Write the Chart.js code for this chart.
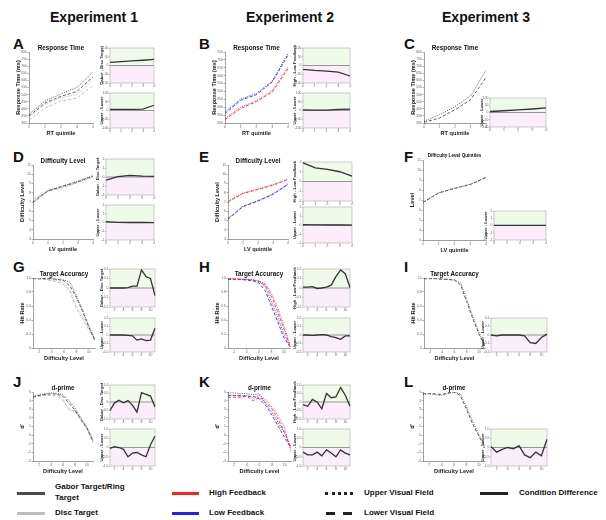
<!DOCTYPE html>
<html>
<head>
<meta charset="utf-8">
<script src="https://cdn.jsdelivr.net/npm/chart.js@4.4.0/dist/chart.umd.min.js"></script>
<style>
  body { margin: 0; background: #fff; }
  #fig { position: relative; width: 606px; height: 520px; overflow: hidden; font-family: "Liberation Sans", Arial, sans-serif; color: #111; }
  #fig canvas { position: absolute; }
  .t { position: absolute; font-weight: bold; white-space: nowrap; line-height: 1; }
  .c { transform: translate(-50%, -50%); }
  .ln { position: absolute; height: 0; }
</style>
</head>
<body>
<div id="fig"></div>
<script>
// ---- categories / tick labels ----
const rtQuintiles = ['10%', '30%', '50%', '70%', '90%'];
const lvQuintiles = ['LV10%', 'LV30%', 'LV50%', 'LV70%', 'LV90%'];
const levels = ['1', '2', '3', '4', '5', '6', '7', '8', '9', '10', '11'];

// ---- Experiment 1 ----
const aGaborUpper = [362, 455, 505, 551, 660];
const aGaborLower = [350, 440, 488, 522, 625];
const aDiscUpper = [340, 430, 478, 500, 600];
const aDiscLower = [320, 405, 455, 475, 567];
const aGaborMinusDisc = [18, 22, 26, 30, 35];
const aUpperMinusLower = [6, 6, 7, 8, 30];

const dGaborUpper = [7.0, 8.25, 8.75, 9.25, 9.85];
const dGaborLower = [6.95, 8.2, 8.7, 9.2, 9.8];
const dDiscUpper = [7.3, 8.2, 8.6, 9.15, 9.75];
const dDiscLower = [7.25, 8.15, 8.55, 9.1, 9.7];
const dGaborMinusDisc = [-0.35, 0.05, 0.18, 0.1, 0.08];
const dUpperMinusLower = [0.1, 0.02, 0, 0, -0.02];

const gGaborUpper = [1, 1, 0.99, 0.99, 0.98, 0.97, 0.94, 0.75, 0.55, 0.32, 0.12];
const gGaborLower = [1, 1, 0.99, 0.99, 0.98, 0.96, 0.88, 0.72, 0.52, 0.3, 0.1];
const gDiscUpper = [0.99, 0.99, 0.98, 0.97, 0.96, 0.93, 0.82, 0.6, 0.45, 0.28, 0.15];
const gDiscLower = [0.99, 0.98, 0.98, 0.96, 0.94, 0.9, 0.8, 0.56, 0.42, 0.26, 0.13];
const gGaborMinusDisc = [0, 0, 0, 0, 0.005, 0.02, 0.02, 0.19, 0.12, 0.1, -0.08];
const gUpperMinusLower = [0, 0, 0, 0, -0.005, -0.01, -0.06, -0.045, -0.065, -0.06, 0.08];

const jGaborUpper = [4.5, 4.6, 4.8, 4.9, 4.85, 4.7, 4.0, 3.1, 2.0, 0.9, -0.6];
const jGaborLower = [4.4, 4.6, 4.7, 4.8, 4.75, 4.5, 3.7, 2.9, 1.8, 0.8, -0.8];
const jDiscUpper = [4.6, 4.7, 4.8, 4.8, 4.7, 4.2, 2.9, 2.7, 1.9, 0.9, -0.4];
const jDiscLower = [4.5, 4.5, 4.6, 4.6, 4.5, 4.0, 3.0, 2.8, 1.7, 0.7, -0.7];
const jGaborMinusDisc = [-0.5, -0.05, 0.1, -0.05, 0.08, -0.2, -0.6, 0.55, 0.45, 0.35, -0.3];
const jUpperMinusLower = [-0.05, 0.05, 0, -0.1, -0.5, -0.3, -0.27, -0.4, -0.5, 0.15, 0.62];

// ---- Experiment 2 ----
const bHighUpper = [330, 400, 442, 505, 655];
const bHighLower = [322, 392, 436, 497, 643];
const bLowUpper = [368, 452, 488, 566, 742];
const bLowLower = [360, 444, 480, 560, 730];
const bHighMinusLow = [-22, -28, -32, -38, -60];
const bUpperMinusLower = [3, 2, 2, 6, 8];

const eHighUpper = [7.1, 7.98, 8.4, 8.88, 9.48];
const eHighLower = [7.02, 7.92, 8.35, 8.82, 9.44];
const eLowUpper = [5.22, 6.55, 7.15, 7.88, 8.95];
const eLowLower = [5.16, 6.5, 7.1, 7.82, 8.9];
const eHighMinusLow = [1.9, 1.4, 1.25, 1.0, 0.55];
const eUpperMinusLower = [0.03, 0.02, 0, 0, -0.02];

const hHighUpper = [0.99, 0.99, 0.99, 0.98, 0.98, 0.96, 0.92, 0.78, 0.58, 0.32, 0.05];
const hHighLower = [0.99, 0.98, 0.98, 0.98, 0.97, 0.95, 0.9, 0.74, 0.52, 0.28, 0.03];
const hLowUpper = [0.99, 0.99, 0.98, 0.98, 0.97, 0.95, 0.88, 0.66, 0.45, 0.2, 0.02];
const hLowLower = [0.98, 0.98, 0.98, 0.97, 0.96, 0.93, 0.82, 0.6, 0.38, 0.15, 0.02];
const hHighMinusLow = [0.01, 0.01, 0.015, -0.005, 0, 0.01, 0.03, 0.12, 0.19, 0.15, 0.005];
const hUpperMinusLower = [0, 0, -0.005, 0, 0.005, 0, -0.02, -0.03, -0.05, -0.01, -0.01];

const kHighUpper = [4.6, 4.6, 4.5, 4.6, 4.3, 4.6, 4.1, 3.2, 2.2, 0.8, -2.0];
const kHighLower = [4.4, 4.4, 4.4, 4.5, 4.0, 4.4, 3.8, 3.0, 1.8, 0.3, -1.6];
const kLowUpper = [4.9, 4.9, 4.8, 4.8, 4.7, 4.8, 3.6, 2.6, 1.4, 0.2, -1.3];
const kLowLower = [4.6, 4.6, 4.6, 4.5, 4.5, 4.2, 3.4, 2.3, 1.0, -0.3, -1.5];
const kHighMinusLow = [-0.15, -0.25, 0.15, 0, -0.4, 0.5, 0.25, 0.3, 0.85, 0.4, -0.25];
const kUpperMinusLower = [-0.25, -0.4, -0.4, -0.25, -0.45, -0.13, -0.3, -0.5, -0.13, -0.3, -0.4];

// ---- Experiment 3 ----
const cUpper = [312, 358, 416, 490, 672];
const cLower = [305, 335, 393, 463, 621];
const cUpperMinusLower = [7, 12, 18, 24, 32];

const fUpper = [6.78, 7.74, 8.18, 8.58, 9.28];
const fLower = [6.75, 7.7, 8.15, 8.55, 9.25];
const fUpperMinusLower = [0.03, 0.02, 0.02, 0.01, 0.01];

const iUpper = [1, 1, 0.99, 0.99, 0.98, 0.97, 0.93, 0.7, 0.45, 0.23, 0.02];
const iLower = [0.99, 0.99, 0.99, 0.98, 0.98, 0.97, 0.9, 0.66, 0.42, 0.2, 0.02];
const iUpperMinusLower = [0, -0.01, 0, 0, 0, 0, -0.01, -0.09, -0.1, -0.03, 0.01];

const lUpper = [4.7, 4.8, 4.7, 4.6, 4.8, 5.0, 4.8, 3.3, 1.6, 0.1, -1.3];
const lLower = [4.8, 4.8, 4.8, 4.7, 4.9, 5.0, 4.6, 3.0, 1.3, -0.1, -1.5];
const lUpperMinusLower = [0.05, -0.25, -0.1, 0, -0.07, 0.1, -0.4, -0.55, -0.25, -0.45, 0.45];

// ---- drawing helpers ----
const fig = document.getElementById('fig');
const DARK = '#4d4d4d', LIGHT = '#b8b8b8', RED = '#ff2a2a', BLUE = '#2a2aff', DIFF = '#333';
const DOT = [1, 1.3], DASH = [3, 2];

function place(w, h, x, y) {
  const c = document.createElement('canvas');
  c.width = w; c.height = h;
  c.style.left = x + 'px'; c.style.top = y + 'px';
  fig.appendChild(c);
  return c;
}

function text(str, x, y, size, centered, extra) {
  const d = document.createElement('div');
  d.className = centered ? 't c' : 't';
  d.textContent = str;
  d.style.left = x + 'px'; d.style.top = y + 'px';
  d.style.fontSize = size + 'px';
  Object.assign(d.style, extra || {});
  fig.appendChild(d);
}

function line(data, color, dash, width) {
  return { data, borderColor: color, borderDash: dash || [], borderWidth: width || 0.9, pointRadius: 0, fill: false, tension: 0 };
}

function evenOnly(value, index) {
  return (index + 1) % 2 === 0 ? this.getLabelForValue(value) : null;
}

const tickFont = { size: 3.4, family: 'Liberation Sans' };
const titleFont = { size: 5.6, weight: 'bold', family: 'Liberation Sans' };

// green above zero, pink below, box around the area
const zones = {
  id: 'zones',
  beforeDatasetsDraw(chart) {
    const { ctx, chartArea: a, scales: { y } } = chart;
    const z = y.getPixelForValue(0);
    ctx.save();
    ctx.fillStyle = '#eefbe9';
    ctx.fillRect(a.left, a.top, a.width, z - a.top);
    ctx.fillStyle = '#fcedfb';
    ctx.fillRect(a.left, z, a.width, a.bottom - z);
    ctx.strokeStyle = '#555';
    ctx.lineWidth = 0.6;
    ctx.beginPath(); ctx.moveTo(a.left, z); ctx.lineTo(a.right, z); ctx.stroke();
    ctx.strokeStyle = '#aaa';
    ctx.lineWidth = 0.6;
    ctx.strokeRect(a.left, a.top, a.width, a.height);
    ctx.restore();
  }
};

function mainPlot(box, cats, sets, yr, yTitle, xTitle, title, titleSize) {
  const YW = 14, XH = 14, TP = 3, RP = 4;
  const c = place(box.w + YW + RP, box.h + TP + XH, box.x - YW, box.y - TP);
  new Chart(c, {
    type: 'line',
    data: { labels: cats, datasets: sets },
    options: {
      responsive: false, animation: false, events: [],
      layout: { padding: { top: TP, right: RP, left: 0, bottom: 0 } },
      plugins: { legend: { display: false }, tooltip: { enabled: false } },
      scales: {
        x: {
          offset: false,
          grid: { drawOnChartArea: false, tickLength: 1.5, color: '#777', lineWidth: 0.6 },
          border: { color: '#777', width: 0.7 },
          ticks: { font: tickFont, color: '#666', padding: 0.5, maxRotation: 0, autoSkip: false,
                   callback: cats === levels ? evenOnly : undefined },
          title: { display: true, text: xTitle, font: titleFont, color: '#222', padding: { top: 1.5, bottom: 0 } },
          afterFit(s) { s.height = XH; }
        },
        y: {
          min: yr[0], max: yr[1],
          grid: { drawOnChartArea: false, tickLength: 1.5, color: '#777', lineWidth: 0.6 },
          border: { color: '#777', width: 0.7 },
          ticks: { stepSize: yr[2], font: tickFont, color: '#666', padding: 0.5 },
          title: { display: true, text: yTitle, font: titleFont, color: '#222', padding: { top: 0, bottom: 1.5 } },
          afterFit(s) { s.width = YW; }
        }
      }
    }
  });
  text(title, box.x + box.w / 2, box.y - 4, titleSize || 6.3, true);
}

function diffPlot(box, cats, data, yr, yTitle) {
  const YW = 11, XH = 6, TP = 5, RP = 3;
  const c = place(box.w + YW + RP, box.h + TP + XH, box.x - YW, box.y - TP);
  new Chart(c, {
    type: 'line',
    data: { labels: cats, datasets: [line(data, DIFF, [], 1.3)] },
    plugins: [zones],
    options: {
      responsive: false, animation: false, events: [],
      layout: { padding: { top: TP, right: RP, left: 0, bottom: 0 } },
      plugins: { legend: { display: false }, tooltip: { enabled: false } },
      scales: {
        x: {
          offset: false,
          grid: { drawOnChartArea: false, tickLength: 1.2, color: '#888', lineWidth: 0.5 },
          border: { display: false },
          ticks: { font: tickFont, color: '#666', padding: 0.3, maxRotation: 0, autoSkip: false,
                   callback: cats === levels ? evenOnly : undefined },
          afterFit(s) { s.height = XH; }
        },
        y: {
          min: yr[0], max: yr[1],
          grid: { drawOnChartArea: false, tickLength: 1.2, color: '#888', lineWidth: 0.5 },
          border: { display: false },
          ticks: { stepSize: yr[2], font: tickFont, color: '#666', padding: 0.3 },
          title: { display: true, text: yTitle, font: { size: 4.2, weight: 'bold', family: 'Liberation Sans' }, color: '#222', padding: { top: 0, bottom: 0.8 } },
          afterFit(s) { s.width = YW; }
        }
      }
    }
  });
}

// ---- headings and panel letters ----
text('Experiment 1', 94, 17, 14, true);
text('Experiment 2', 290, 17, 14, true);
text('Experiment 3', 486, 17, 14, true);
[['A', 13, 36], ['B', 199, 36], ['C', 404, 36],
 ['D', 13, 149], ['E', 199, 149], ['F', 404, 149],
 ['G', 13, 259], ['H', 199, 259], ['I', 404, 259],
 ['J', 13, 374], ['K', 199, 374], ['L', 404, 374]].forEach(([s, x, y]) => text(s, x, y, 15, false));

// ---- Experiment 1 ----
mainPlot({ x: 29, y: 52, w: 64, h: 71 }, rtQuintiles,
  [line(aGaborUpper, DARK, DOT), line(aGaborLower, DARK, DASH), line(aDiscUpper, LIGHT, DOT), line(aDiscLower, LIGHT, DASH)],
  [300, 800, 50], 'Response Time (ms)', 'RT quintile', 'Response Time');
diffPlot({ x: 110, y: 48, w: 44, h: 35 }, rtQuintiles, aGaborMinusDisc, [-100, 100, 50], 'Gabor - Disc Target');
diffPlot({ x: 110, y: 93, w: 44, h: 35 }, rtQuintiles, aUpperMinusLower, [-100, 100, 50], 'Upper - Lower');

mainPlot({ x: 33, y: 165, w: 60, h: 74 }, lvQuintiles,
  [line(dGaborUpper, DARK, DOT), line(dGaborLower, DARK, DASH), line(dDiscUpper, LIGHT, DOT), line(dDiscLower, LIGHT, DASH)],
  [3, 11, 1], 'Difficulty Level', 'LV quintile', 'Difficulty Level');
diffPlot({ x: 106, y: 159, w: 48, h: 36 }, lvQuintiles, dGaborMinusDisc, [-2, 2, 1], 'Gabor - Disc Target');
diffPlot({ x: 106, y: 205, w: 48, h: 35 }, lvQuintiles, dUpperMinusLower, [-2, 2, 1], 'Upper - Lower');

mainPlot({ x: 33, y: 278, w: 62, h: 70 }, levels,
  [line(gGaborUpper, DARK, DOT), line(gGaborLower, DARK, DASH), line(gDiscUpper, LIGHT, DOT), line(gDiscLower, LIGHT, DASH)],
  [0, 1, 0.2], 'Hit Rate', 'Difficulty Level', 'Target Accuracy');
diffPlot({ x: 110, y: 269, w: 45, h: 38 }, levels, gGaborMinusDisc, [-0.2, 0.2, 0.1], 'Gabor - Disc Target');
diffPlot({ x: 110, y: 318, w: 45, h: 34 }, levels, gUpperMinusLower, [-0.2, 0.2, 0.1], 'Upper - Lower');

mainPlot({ x: 33, y: 392, w: 60, h: 69 }, levels,
  [line(jGaborUpper, DARK, DOT), line(jGaborLower, DARK, DASH), line(jDiscUpper, LIGHT, DOT), line(jDiscLower, LIGHT, DASH)],
  [-3, 5, 1], "d'", 'Difficulty Level', 'd-prime');
diffPlot({ x: 110, y: 385, w: 45, h: 34 }, levels, jGaborMinusDisc, [-1, 1, 0.5], 'Gabor - Disc Target');
diffPlot({ x: 110, y: 429, w: 45, h: 37 }, levels, jUpperMinusLower, [-1, 1, 0.5], 'Upper - Lower');

// ---- Experiment 2 ----
mainPlot({ x: 225, y: 52, w: 63, h: 71 }, rtQuintiles,
  [line(bHighUpper, RED, DOT), line(bHighLower, RED, DASH), line(bLowUpper, BLUE, DOT), line(bLowLower, BLUE, DASH)],
  [300, 750, 50], 'Response Time (ms)', 'RT quintile', 'Response Time');
diffPlot({ x: 303, y: 48, w: 47, h: 35 }, rtQuintiles, bHighMinusLow, [-100, 100, 50], 'High - Low Feedback');
diffPlot({ x: 303, y: 93, w: 47, h: 35 }, rtQuintiles, bUpperMinusLower, [-100, 100, 50], 'Upper - Lower');

mainPlot({ x: 228, y: 165, w: 60, h: 74 }, lvQuintiles,
  [line(eHighUpper, RED, DOT), line(eHighLower, RED, DASH), line(eLowUpper, BLUE, DOT), line(eLowLower, BLUE, DASH)],
  [3, 11, 1], 'Difficulty Level', 'LV quintile', 'Difficulty Level');
diffPlot({ x: 303, y: 162, w: 49, h: 39 }, lvQuintiles, eHighMinusLow, [-2, 2, 1], 'High - Low Feedback');
diffPlot({ x: 303, y: 207, w: 49, h: 36 }, lvQuintiles, eUpperMinusLower, [-2, 2, 1], 'Upper - Lower');

mainPlot({ x: 228, y: 278, w: 62, h: 70 }, levels,
  [line(hHighUpper, RED, DOT), line(hHighLower, RED, DASH), line(hLowUpper, BLUE, DOT), line(hLowLower, BLUE, DASH)],
  [0, 1, 0.2], 'Hit Rate', 'Difficulty Level', 'Target Accuracy');
diffPlot({ x: 303, y: 269, w: 47, h: 38 }, levels, hHighMinusLow, [-0.2, 0.2, 0.1], 'High - Low Feedback');
diffPlot({ x: 303, y: 318, w: 47, h: 34 }, levels, hUpperMinusLower, [-0.2, 0.2, 0.1], 'Upper - Lower');

mainPlot({ x: 228, y: 392, w: 63, h: 69 }, levels,
  [line(kHighUpper, RED, DOT), line(kHighLower, RED, DASH), line(kLowUpper, BLUE, DOT), line(kLowLower, BLUE, DASH)],
  [-3, 5, 1], "d'", 'Difficulty Level', 'd-prime');
diffPlot({ x: 303, y: 385, w: 47, h: 34 }, levels, kHighMinusLow, [-1, 1, 0.5], 'High - Low Feedback');
diffPlot({ x: 303, y: 429, w: 47, h: 37 }, levels, kUpperMinusLower, [-1, 1, 0.5], 'Upper - Lower');

// ---- Experiment 3 ----
mainPlot({ x: 424, y: 52, w: 62, h: 71 }, rtQuintiles,
  [line(cUpper, DARK, DOT), line(cLower, DARK, DASH)],
  [300, 800, 50], 'Response Time (ms)', 'RT quintile', 'Response Time');
diffPlot({ x: 490, y: 98, w: 56, h: 29 }, rtQuintiles, cUpperMinusLower, [-100, 100, 50], 'Upper - Lower');

mainPlot({ x: 423, y: 160, w: 63, h: 80 }, lvQuintiles,
  [line(fUpper, DARK, DOT), line(fLower, DARK, DASH)],
  [3, 11, 1], 'Level', 'LV quintile', 'Difficulty Level Quintiles', 4.6);
diffPlot({ x: 494, y: 211, w: 52, h: 29 }, lvQuintiles, fUpperMinusLower, [-2, 2, 1], 'Upper - Lower');

mainPlot({ x: 424, y: 278, w: 61, h: 70 }, levels,
  [line(iUpper, DARK, DOT), line(iLower, DARK, DASH)],
  [0, 1, 0.2], 'Hit Rate', 'Difficulty Level', 'Target Accuracy');
diffPlot({ x: 491, y: 318, w: 56, h: 34 }, levels, iUpperMinusLower, [-0.2, 0.2, 0.1], 'Upper - Lower');

mainPlot({ x: 423, y: 392, w: 62, h: 69 }, levels,
  [line(lUpper, DARK, DOT), line(lLower, DARK, DASH)],
  [-3, 5, 1], "d'", 'Difficulty Level', 'd-prime');
diffPlot({ x: 491, y: 429, w: 56, h: 37 }, levels, lUpperMinusLower, [-1, 1, 0.5], 'Upper - Lower');

// ---- legend ----
function legendLine(x, y, w, style) {
  const d = document.createElement('div');
  d.className = 'ln';
  d.style.left = x + 'px'; d.style.top = (y - 1.5) + 'px'; d.style.width = w + 'px';
  d.style.borderTop = style;
  fig.appendChild(d);
}
legendLine(17, 493, 28, '3px solid #4a4a4a');
text('Gabor Target/Ring', 55, 483, 8, false);
text('Target', 55, 494, 8, false);
legendLine(17, 513, 28, '3px solid #bdbdbd');
text('Disc Target', 55, 509, 8, false);

legendLine(172, 493, 27, '3px solid #ff2020');
text('High Feedback', 209, 489, 8, false);
legendLine(172, 513, 27, '3px solid #2020ff');
text('Low Feedback', 209, 509, 8, false);

legendLine(325, 493, 28, '3px dotted #222');
text('Upper Visual Field', 364, 489, 8, false);
legendLine(326, 513, 9, '3px solid #222');
legendLine(343, 513, 9, '3px solid #222');
text('Lower Visual Field', 364, 509, 8, false);

legendLine(480, 493, 28, '3px solid #222');
text('Condition Difference', 519, 489, 8, false);
</script>
</body>
</html>
